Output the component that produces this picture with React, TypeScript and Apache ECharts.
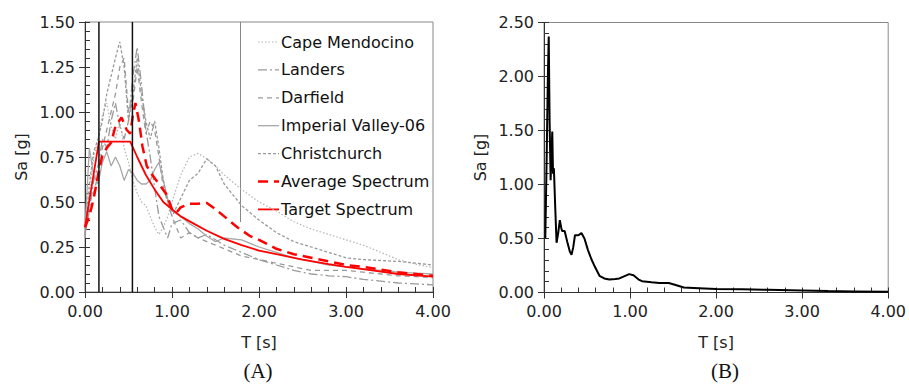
import React, { useEffect, useRef } from "react";
import * as echarts from "echarts";

// ---- Data (A) ----
const T_GRID = [0, 0.05, 0.1, 0.15, 0.2, 0.25, 0.3, 0.35, 0.4, 0.45, 0.5, 0.55, 0.6, 0.65, 0.7, 0.75, 0.8, 0.85, 0.9, 0.95,
  1.0, 1.1, 1.2, 1.3, 1.4, 1.5, 1.6, 1.8, 2.0, 2.2, 2.4, 2.6, 2.8, 3.0, 3.2, 3.4, 3.6, 3.8, 4.0];

const CAPE_MENDOCINO = [0.30, 0.55, 0.75, 0.85, 0.98, 1.05, 0.92, 0.85, 0.95, 0.80, 0.72, 0.62, 0.55, 0.50, 0.48, 0.42, 0.36, 0.32, 0.36, 0.42,
  0.50, 0.65, 0.75, 0.77, 0.74, 0.70, 0.65, 0.57, 0.50, 0.45, 0.39, 0.35, 0.32, 0.29, 0.26, 0.22, 0.18, 0.155, 0.135];
const LANDERS = [0.32, 0.45, 0.62, 0.70, 0.85, 0.80, 0.95, 1.05, 0.92, 0.85, 0.95, 1.20, 1.36, 1.15, 0.90, 0.75, 0.58, 0.42, 0.36, 0.30,
  0.38, 0.40, 0.33, 0.30, 0.32, 0.29, 0.26, 0.22, 0.18, 0.15, 0.12, 0.10, 0.09, 0.085, 0.07, 0.06, 0.05, 0.045, 0.04];
const DARFIELD = [0.30, 0.50, 0.55, 0.65, 0.80, 0.90, 1.00, 1.10, 1.25, 1.30, 1.00, 1.05, 1.25, 1.05, 0.88, 0.95, 0.90, 0.75, 0.58, 0.50,
  0.42, 0.30, 0.33, 0.30, 0.28, 0.26, 0.24, 0.20, 0.18, 0.16, 0.14, 0.12, 0.12, 0.12, 0.11, 0.10, 0.09, 0.085, 0.08];
const IMPERIAL_VALLEY = [0.35, 0.80, 0.65, 0.60, 0.72, 0.78, 0.70, 0.75, 0.70, 0.62, 0.68, 0.66, 0.62, 0.60, 0.60, 0.62, 0.68, 0.72, 0.62, 0.52,
  0.45, 0.42, 0.38, 0.35, 0.31, 0.28, 0.30, 0.29, 0.25, 0.22, 0.19, 0.17, 0.15, 0.14, 0.13, 0.12, 0.11, 0.105, 0.10];
const CHRISTCHURCH = [0.32, 0.60, 0.78, 0.85, 0.95, 1.10, 1.20, 1.30, 1.39, 1.25, 0.95, 1.10, 1.30, 1.10, 0.95, 0.85, 0.95, 0.80, 0.62, 0.50,
  0.42, 0.52, 0.62, 0.66, 0.74, 0.70, 0.60, 0.48, 0.40, 0.33, 0.28, 0.25, 0.22, 0.19, 0.18, 0.175, 0.17, 0.16, 0.15];

const AVG_T = [0, 0.05, 0.1, 0.15, 0.2, 0.25, 0.3, 0.35, 0.42, 0.48, 0.52, 0.55, 0.58, 0.62, 0.66, 0.71, 0.76, 0.82, 0.88, 0.94, 1.0, 1.05,
  1.1, 1.2, 1.3, 1.4, 1.5, 1.6, 1.75, 1.9, 2.0, 2.2, 2.4, 2.6, 2.8, 3.0, 3.2, 3.4, 3.6, 3.8, 4.0];
const AVG_SA = [0.36, 0.42, 0.52, 0.65, 0.76, 0.80, 0.83, 0.92, 0.97, 0.90, 0.88, 0.98, 1.05, 0.95, 0.81, 0.70, 0.66, 0.62, 0.58, 0.54, 0.46, 0.44,
  0.47, 0.49, 0.49, 0.495, 0.46, 0.42, 0.36, 0.31, 0.29, 0.24, 0.21, 0.19, 0.17, 0.15, 0.14, 0.125, 0.11, 0.10, 0.09];

const TARGET_T = [0, 0.16, 0.52, 0.6, 0.7, 0.8, 0.9, 1.0, 1.1, 1.25, 1.4, 1.6, 1.8, 2.0, 2.2, 2.5, 2.8, 3.0, 3.3, 3.6, 4.0];
const TARGET_SA = [0.36, 0.835, 0.835, 0.75, 0.65, 0.57, 0.50, 0.46, 0.42, 0.38, 0.34, 0.295, 0.26, 0.23, 0.21, 0.18, 0.155, 0.14, 0.12, 0.10, 0.085];

const PERIOD_BOUNDS = [0.16, 0.545];

// ---- Data (B) ----
const B_T = [0.015, 0.03, 0.045, 0.055, 0.065, 0.077, 0.088, 0.096, 0.105, 0.115, 0.13, 0.146, 0.165, 0.184, 0.2, 0.21, 0.24, 0.27, 0.3, 0.32,
  0.34, 0.36, 0.4, 0.435, 0.47, 0.51, 0.55, 0.59, 0.645, 0.7, 0.76, 0.83, 0.876, 0.93, 0.99, 1.04, 1.1, 1.14, 1.25, 1.34, 1.45, 1.53,
  1.625, 1.8, 2.0, 2.3, 2.6, 3.0, 3.3, 3.6, 4.0];
const B_SA = [0.5, 1.2, 2.0, 2.37, 1.6, 1.04, 1.3, 1.49, 1.1, 1.15, 0.8, 0.46, 0.55, 0.67, 0.6, 0.57, 0.57, 0.47, 0.38, 0.35,
  0.42, 0.53, 0.53, 0.55, 0.5, 0.395, 0.31, 0.24, 0.155, 0.13, 0.12, 0.125, 0.13, 0.15, 0.17, 0.16, 0.12, 0.105, 0.095, 0.087, 0.088, 0.07,
  0.046, 0.04, 0.033, 0.03, 0.025, 0.018, 0.013, 0.01, 0.006];

const zip = (xs: number[], ys: number[]) => xs.map((x, i) => [x, ys[i]]);

const FONT = "DejaVu Sans";
const AXIS_COLOR = "#333";

type Sty = { name: string; color: string; width: number; dash: number[] | null; data: number[][]; z: number };

const STYLES: Sty[] = [
  { name: "Cape Mendocino", color: "#b3b3b3", width: 1.2, dash: [1.5, 2], data: zip(T_GRID, CAPE_MENDOCINO), z: 2 },
  { name: "Landers", color: "#9a9a9a", width: 1.3, dash: [9, 3, 2, 3], data: zip(T_GRID, LANDERS), z: 2 },
  { name: "Darfield", color: "#9a9a9a", width: 1.3, dash: [5, 4], data: zip(T_GRID, DARFIELD), z: 2 },
  { name: "Imperial Valley-06", color: "#a8a8a8", width: 1.3, dash: null, data: zip(T_GRID, IMPERIAL_VALLEY), z: 2 },
  { name: "Christchurch", color: "#9a9a9a", width: 1.3, dash: [3, 2], data: zip(T_GRID, CHRISTCHURCH), z: 2 },
  { name: "Average Spectrum", color: "#ff0000", width: 2.5, dash: [10, 6], data: zip(AVG_T, AVG_SA), z: 4 },
  { name: "Target Spectrum", color: "#ff0000", width: 1.8, dash: null, data: zip(TARGET_T, TARGET_SA), z: 5 },
];

function mainX(gridIndex: number) {
  return {
    gridIndex, type: "value", min: 0, max: 4, interval: 1,
    axisLine: { show: true, onZero: false, lineStyle: { color: AXIS_COLOR, width: 1 } },
    axisTick: { show: true, length: 6, lineStyle: { color: AXIS_COLOR } },
    axisLabel: { formatter: (v: number) => v.toFixed(2), fontFamily: FONT, fontSize: 16, color: "#222", margin: 11 },
    splitLine: { show: false },
    name: "T [s]", nameLocation: "middle", nameGap: 42,
    nameTextStyle: { fontFamily: FONT, fontSize: 16, color: "#222" },
  };
}
function minorX(gridIndex: number) {
  return {
    gridIndex, type: "value", min: 0, max: 4, interval: 0.2, position: "bottom",
    axisLine: { show: false }, axisTick: { show: true, inside: true, length: 5, lineStyle: { color: AXIS_COLOR } },
    axisLabel: { show: false }, splitLine: { show: false },
  };
}
function mainY(gridIndex: number, max: number, interval: number, gap: number) {
  return {
    gridIndex, type: "value", min: 0, max, interval,
    axisLine: { show: true, onZero: false, lineStyle: { color: AXIS_COLOR, width: 1 } },
    axisTick: { show: true, length: 6, lineStyle: { color: AXIS_COLOR } },
    axisLabel: { formatter: (v: number) => v.toFixed(2), fontFamily: FONT, fontSize: 16, color: "#222", margin: 10 },
    splitLine: { show: false },
    name: "Sa [g]", nameLocation: "middle", nameGap: gap, nameRotate: 90,
    nameTextStyle: { fontFamily: FONT, fontSize: 16, color: "#222" },
  };
}
function minorY(gridIndex: number, max: number, interval: number) {
  return {
    gridIndex, type: "value", min: 0, max, interval, position: "left",
    axisLine: { show: false }, axisTick: { show: true, inside: true, length: 5, lineStyle: { color: AXIS_COLOR } },
    axisLabel: { show: false }, splitLine: { show: false },
  };
}

export default function App() {
  const ref = useRef<HTMLDivElement>(null);
  useEffect(() => {
    const chart = echarts.init(ref.current!, null, { renderer: "svg" });
    const legendGraphics: any[] = [];
    STYLES.forEach((s, i) => {
      const y = 42 + i * 27.9;
      legendGraphics.push({
        type: "line", shape: { x1: 258, y1: y, x2: 279, y2: y },
        style: { stroke: s.color, lineWidth: s.width, lineDash: s.dash || undefined },
      });
      legendGraphics.push({
        type: "text", x: 281, y,
        style: { text: s.name, textAlign: "left", textVerticalAlign: "middle", font: `16px "${FONT}"`, fill: "#111" },
      });
    });
    const option: any = {
      animation: false,
      backgroundColor: "#fff",
      grid: [
        { left: 85, top: 22, width: 348, height: 270, show: true, borderColor: "#888", borderWidth: 1 },
        { left: 544, top: 22.5, width: 347, height: 270, show: true, borderColor: "#888", borderWidth: 1 },
      ],
      xAxis: [mainX(0), minorX(0), mainX(1), minorX(1)],
      yAxis: [mainY(0, 1.5, 0.25, 56), minorY(0, 1.5, 0.05), mainY(1, 2.5, 0.5, 56), minorY(1, 2.5, 0.1)],
      series: [
        ...STYLES.map((s) => ({
          name: s.name, type: "line", xAxisIndex: 0, yAxisIndex: 0, symbol: "none", z: s.z,
          data: s.data, lineStyle: { color: s.color, width: s.width, type: s.dash || "solid" },
        })),
        ...PERIOD_BOUNDS.map((t, i) => ({
          name: "Period bound " + (i + 1), type: "line", xAxisIndex: 0, yAxisIndex: 0, symbol: "none", z: 6,
          data: [[t, 0], [t, 1.5]], lineStyle: { color: "#111", width: 1.5 },
        })),
        {
          name: "Record", type: "line", xAxisIndex: 2, yAxisIndex: 2, symbol: "none", z: 5,
          data: zip(B_T, B_SA), lineStyle: { color: "#000", width: 2 },
        },
      ],
      graphic: [
        { type: "line", shape: { x1: 240.5, y1: 22, x2: 240.5, y2: 222 }, style: { stroke: "#888", lineWidth: 1 } },
        ...legendGraphics,
        { type: "text", x: 258, y: 371, style: { text: "(A)", textAlign: "center", textVerticalAlign: "middle", font: '21px "Liberation Serif"', fill: "#111" } },
        { type: "text", x: 725, y: 371, style: { text: "(B)", textAlign: "center", textVerticalAlign: "middle", font: '21px "Liberation Serif"', fill: "#111" } },
      ],
    };
    chart.setOption(option);
    return () => chart.dispose();
  }, []);
  return <div ref={ref} style={{ position: "fixed", left: 0, top: 0, width: 909, height: 385, background: "#fff" }} />;
}
